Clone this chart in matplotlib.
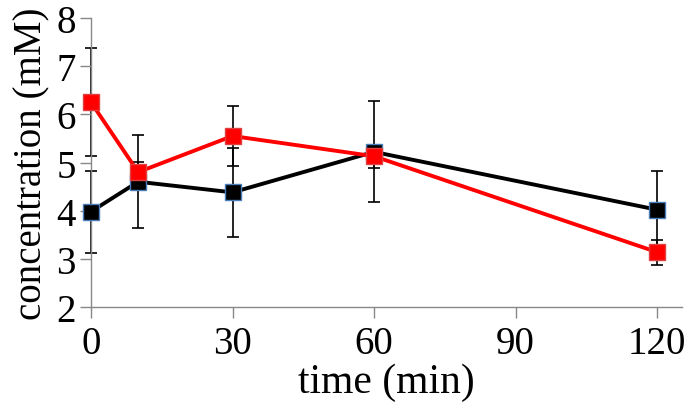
import numpy as np
import matplotlib.pyplot as plt

plt.rcParams['font.family'] = ['Liberation Serif', 'DejaVu Serif']

time_min = [0, 10, 30, 60, 120]
black_vals = [3.98, 4.60, 4.38, 5.22, 4.02]
black_err = [0.85, 0.97, 0.92, 1.05, 0.80]
red_vals = [6.25, 4.80, 5.55, 5.13, 3.14]
red_err = [1.12, 0.22, 0.62, 0.24, 0.26]
xticks = [0, 30, 60, 90, 120]
yticks = [2, 3, 4, 5, 6, 7, 8]

fig = plt.figure(figsize=(6.87, 4.10), dpi=100)
ax = fig.add_axes([91 / 687, 1 - 308 / 410, (682 - 91) / 687, (308 - 19) / 410])

# error bars behind the markers
for vals, err in [(black_vals, black_err), (red_vals, red_err)]:
    eb = ax.errorbar(time_min, vals, yerr=err, fmt='none', ecolor='black',
                     elinewidth=1.2, capsize=4.5, capthick=1.2, zorder=1)
    for art in eb.lines[1] + eb.lines[2]:
        art.set_clip_on(False)

ax.plot(time_min, black_vals, color='black', lw=2.8, marker='s', ms=11,
        mfc='black', mec='#4a7ebb', mew=1.0, zorder=3, clip_on=False)
ax.plot(time_min, red_vals, color='#ff0000', lw=2.8, marker='s', ms=11,
        mfc='#ff0000', mec='#e04040', mew=1.0, zorder=4, clip_on=False)

ax.set_xlim(0, (682 - 91) / ((657 - 91) / 120))
ax.set_ylim(2, 8)
ax.set_xticks(xticks)
ax.set_yticks(yticks)

for s in ['top', 'right']:
    ax.spines[s].set_visible(False)
for s in ['left', 'bottom']:
    ax.spines[s].set_color('#888888')
    ax.spines[s].set_linewidth(1.0)
ax.tick_params(axis='both', colors='#888888', labelcolor='black', length=8,
               width=1.0, labelsize=28, direction='out')
ax.tick_params(axis='x', pad=5)
ax.tick_params(axis='y', pad=3)

ax.set_xlabel('time (min)', fontsize=30, labelpad=0)
ax.set_ylabel('concentration (mM)', fontsize=28, labelpad=4)

plt.savefig('out.png', dpi=100)
